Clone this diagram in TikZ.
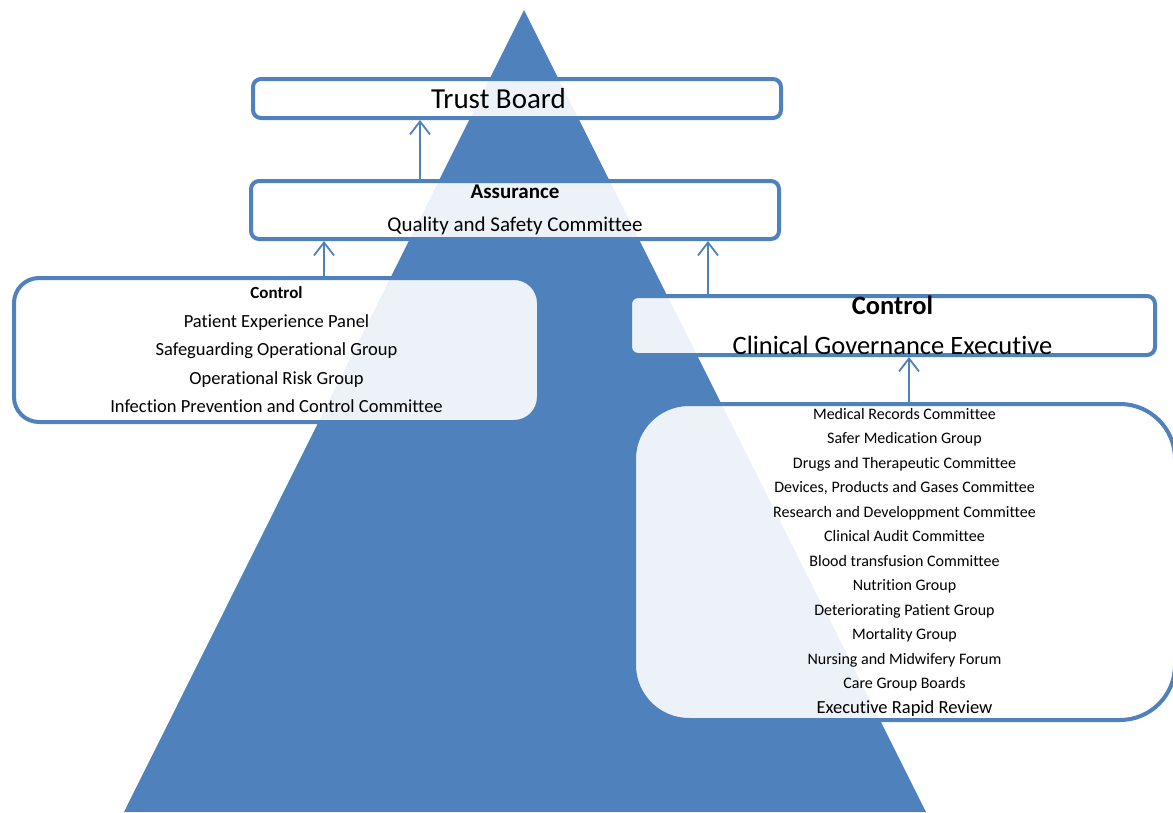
\documentclass[tikz,border=0pt]{standalone}
\usepackage{fontspec}
\setmainfont{Carlito}[Ligatures=NoCommon]
\usetikzlibrary{arrows.meta}
\definecolor{trustblue}{HTML}{4F81BD}
\tikzset{
panel/.style={draw=trustblue, line width=4pt, fill=white, fill opacity=0.9, text opacity=1, align=center, inner sep=0pt, rounded corners=8pt}, % the committee boxes
up/.style={draw=trustblue, line width=1.8pt, -{Straight Barb[length=13pt, width=20pt, line width=1.8pt]}}, % reporting arrows
}

\begin{document}
\begin{tikzpicture}[x=1pt, y=-1pt]
\useasboundingbox (0,0) rectangle (1173,812);

% the pyramid behind everything
\fill[trustblue] (524,10) -- (926,812) -- (124,812) -- cycle;

\node[panel, minimum width=528pt, minimum height=39pt, font=\fontsize{29}{34}\selectfont] at (517,98.5) (board) {Trust Board\hspace*{37pt}};
\node[panel, minimum width=528pt, minimum height=58pt, font=\fontsize{21}{33}\selectfont] at (515,210) (assur) {\textbf{Assurance}\\Quality and Safety Committee};
\node[panel, rounded corners=25pt, minimum width=525pt, minimum height=144pt, font=\fontsize{18.5}{28.5}\selectfont] at (276.5,350) (ctrl) {{\fontsize{17}{28.5}\selectfont\bfseries Control}\\Patient Experience Panel\\Safeguarding Operational Group\\Operational Risk Group\\Infection Prevention and Control Committee};
\node[panel, minimum width=525pt, minimum height=59pt, font=\fontsize{26.5}{40}\selectfont] at (892.5,325.5) (cge) {\textbf{Control}\\Clinical Governance Executive};
\node[panel, rounded corners=55pt, minimum width=541pt, minimum height=316pt, font=\fontsize{16}{24.5}\selectfont] at (904.5,562) (groups) {Medical Records Committee\\Safer Medication Group\\Drugs and Therapeutic Committee\\Devices, Products and Gases Committee\\Research and Developpment Committee\\Clinical Audit Committee\\Blood transfusion Committee\\Nutrition Group\\Deteriorating Patient Group\\Mortality Group\\Nursing and Midwifery Forum\\Care Group Boards\\{\fontsize{18.5}{24.5}\selectfont Executive Rapid Review}};

% where the arrows run
\coordinate (a1) at (420,0);
\coordinate (a2) at (324,0);
\coordinate (a3) at (708,0);
\coordinate (a4) at (909,0);

\draw[up] (assur.north -| a1) -- (board.south -| a1);
\draw[up] (ctrl.north -| a2) -- (assur.south -| a2);
\draw[up] (cge.north -| a3) -- (assur.south -| a3);
\draw[up] (groups.north -| a4) -- (cge.south -| a4);
\end{tikzpicture}
\end{document}
